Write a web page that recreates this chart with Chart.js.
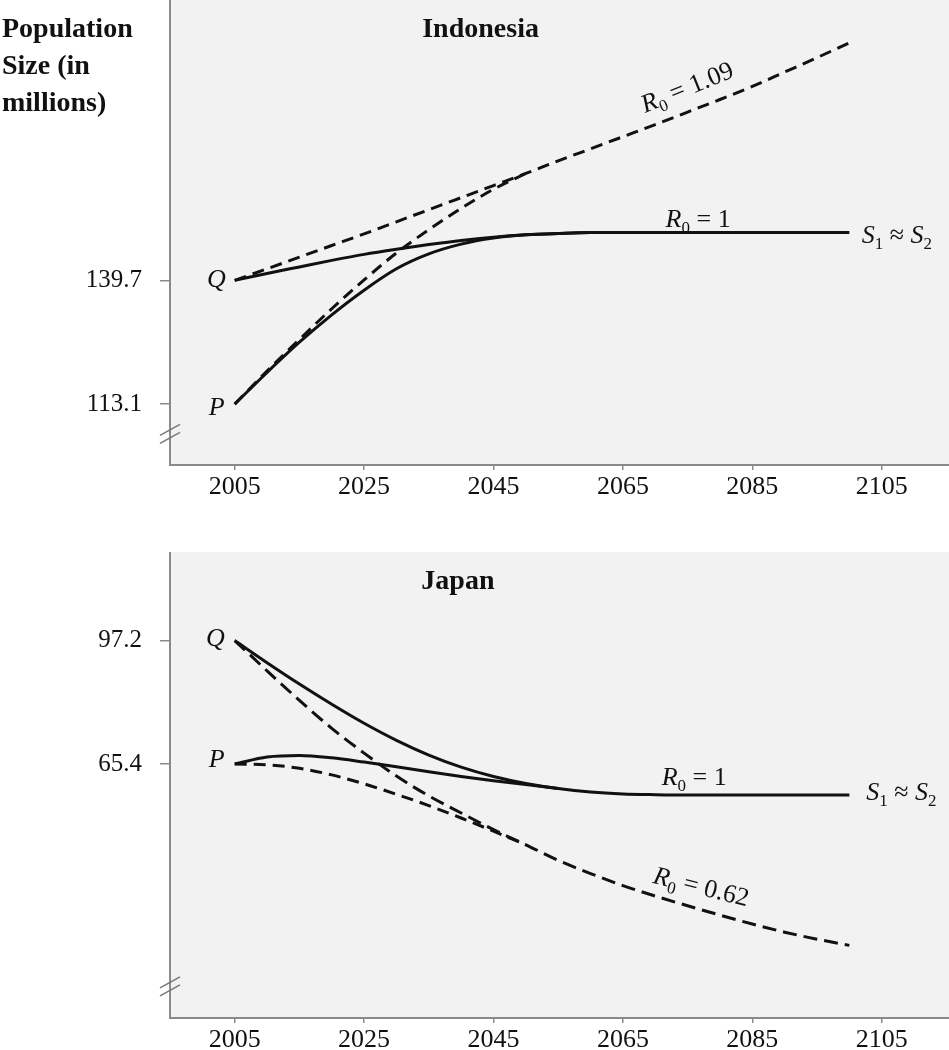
<!DOCTYPE html>
<html>
<head>
<meta charset="utf-8">
<script src="https://cdn.jsdelivr.net/npm/chart.js@4"></script>
<style>
  body { margin: 0; background: #fff; width: 949px; height: 1050px; position: relative; overflow: hidden; }
  canvas { position: absolute; left: 0; }
  #yTitle { position: absolute; left: 2px; top: 9px; z-index: 2; font-family: "Liberation Serif", "Times New Roman", serif;
            font-weight: bold; font-size: 28px; line-height: 37px; color: #111; }
</style>
</head>
<body>
<canvas id="indo" width="949" height="510" style="top:0"></canvas>
<canvas id="japan" width="949" height="498" style="top:552px"></canvas>
<div id="yTitle">Population<br>Size (in<br>millions)</div>
<script>
const years = [2005, 2010, 2015, 2020, 2025, 2030, 2035, 2040, 2045, 2050, 2055, 2060, 2065, 2070, 2075, 2080, 2085, 2090, 2095, 2100];
const xTicks = [2005, 2025, 2045, 2065, 2085, 2105];

// Indonesia (millions)
const indoTicks = [113.1, 139.7];
const indoQSolid = [139.7, 141.2, 142.6, 144.0, 145.3, 146.4, 147.4, 148.3, 149.0, 149.5, 149.8, 150.0, 150.0, 150.0, 150.0, 150.0, 150.0, 150.0, 150.0, 150.0];
const indoPSolid = [113.1, 119.9, 126.4, 132.3, 137.6, 142.2, 145.4, 147.5, 148.8, 149.5, 149.8, 150.0, null, null, null, null, null, null, null, null];
const indoQDash  = [139.7, 142.2, 144.7, 147.2, 149.7, 152.3, 154.9, 157.5, 160.1, 162.7, 165.4, 168.0, 170.6, 173.2, 175.9, 178.6, 181.4, 184.5, 187.6, 190.8];
const indoPDash  = [113.1, 120.2, 127.0, 133.6, 139.8, 145.6, 150.6, 155.2, 159.3, 162.7, null, null, null, null, null, null, null, null, null, null];

// Japan (millions)
const japanTicks = [65.4, 97.2];
const japanQSolid = [97.2, 91.5, 86.0, 80.8, 75.9, 71.5, 67.7, 64.6, 62.2, 60.4, 59.1, 58.2, 57.7, 57.5, 57.4, 57.4, 57.4, 57.4, 57.4, 57.4];
const japanPSolid = [65.4, 67.2, 67.6, 67.0, 65.9, 64.7, 63.4, 62.2, 61.1, 60.1, 59.1, null, null, null, null, null, null, null, null, null];
const japanQDash  = [97.2, 89.4, 81.8, 74.6, 68.2, 62.3, 57.2, 52.8, 48.5, 44.6, 40.6, 37.2, 34.1, 31.4, 28.9, 26.5, 24.2, 22.1, 20.3, 18.7];
const japanPDash  = [65.4, 65.2, 64.3, 62.6, 60.3, 57.6, 54.7, 51.5, 48.1, 44.6, null, null, null, null, null, null, null, null, null, null];

const FAM = '"Liberation Serif", "Times New Roman", serif';
const INK = '#111';
const AXIS = '#8a8a8a';

function fontFor(style, size) {
  if (style === 'i') return `italic ${size}px ${FAM}`;
  if (style === 'b') return `bold ${size}px ${FAM}`;
  if (style === 's') return `${Math.round(size * 0.65)}px ${FAM}`;
  return `${size}px ${FAM}`;
}

// draws text made of pieces (italic letters, subscripts...)
function drawParts(ctx, parts, x, y, size, angle, align) {
  ctx.save();
  ctx.translate(x, y);
  ctx.rotate((angle || 0) * Math.PI / 180);
  ctx.textBaseline = 'alphabetic';
  ctx.textAlign = 'left';
  ctx.fillStyle = INK;
  let w = 0;
  parts.forEach(p => { ctx.font = fontFor(p[1], size); w += ctx.measureText(p[0]).width; });
  let cx = align === 'right' ? -w : align === 'center' ? -w / 2 : 0;
  parts.forEach(p => {
    ctx.font = fontFor(p[1], size);
    ctx.fillText(p[0], cx, p[1] === 's' ? size * 0.22 : 0);
    cx += ctx.measureText(p[0]).width;
  });
  ctx.restore();
}

const notesPlugin = {
  id: 'notes',
  beforeDraw(chart) {
    const {ctx, chartArea: a} = chart;
    ctx.save();
    ctx.fillStyle = '#f2f2f2';
    ctx.fillRect(a.left, a.top, a.right - a.left, a.bottom - a.top);
    ctx.restore();
  },
  afterDraw(chart, args, opts) {
    const {ctx, scales: {x, y}} = chart;
    (opts.notes || []).forEach(n => {
      drawParts(ctx, n.parts, x.getPixelForValue(n.x) + (n.dx || 0), y.getPixelForValue(n.y) + (n.dy || 0),
                n.size || 26, n.angle, n.align);
    });
    // axis break marks
    const by = y.getPixelForValue(opts.breakAt);
    const bx = chart.chartArea.left;
    ctx.save();
    ctx.strokeStyle = '#777';
    ctx.lineWidth = 1.5;
    [-4, 4].forEach(o => {
      ctx.beginPath();
      ctx.moveTo(bx - 10, by + o + 5);
      ctx.lineTo(bx + 10, by + o - 6);
      ctx.stroke();
    });
    ctx.restore();
  }
};

function line(data, dash) {
  return {
    data: years.map((yr, i) => ({x: yr, y: data[i]})),
    borderColor: INK,
    borderWidth: 3,
    borderDash: dash || [],
    pointRadius: 0,
    fill: false,
    cubicInterpolationMode: 'monotone',
    spanGaps: false
  };
}

function makeChart(id, yMin, yMax, yTicks, datasets, notes, breakAt, xAxisHeight) {
  return new Chart(document.getElementById(id), {
    type: 'line',
    data: {datasets: datasets},
    plugins: [notesPlugin],
    options: {
      responsive: false,
      animation: false,
      layout: {padding: 0},
      plugins: {
        legend: {display: false},
        tooltip: {enabled: false},
        notes: {notes: notes, breakAt: breakAt}
      },
      scales: {
        x: {
          type: 'linear',
          min: 1995,
          max: 2115.4,
          afterBuildTicks: s => { s.ticks = xTicks.map(v => ({value: v})); },
          afterFit: s => { s.height = xAxisHeight; s.paddingLeft = 0; s.paddingRight = 0; },
          ticks: {
            callback: v => String(v),
            color: INK,
            padding: 2,
            maxRotation: 0,
            font: {family: FAM, size: 26}
          },
          grid: {drawOnChartArea: false, drawTicks: true, tickLength: 5, color: AXIS, lineWidth: 1.5},
          border: {display: true, color: AXIS, width: 2}
        },
        y: {
          type: 'linear',
          min: yMin,
          max: yMax,
          afterBuildTicks: s => { s.ticks = yTicks.map(v => ({value: v})); },
          afterFit: s => { s.width = 170; s.paddingTop = 0; s.paddingBottom = 0; },
          ticks: {
            callback: v => String(v),
            color: INK,
            padding: 18,
            font: {family: FAM, size: 25}
          },
          grid: {drawOnChartArea: false, drawTicks: true, tickLength: 10, color: AXIS, lineWidth: 1.5},
          border: {display: true, color: AXIS, width: 2}
        }
      }
    }
  });
}

const R = 'R', S = 'S';

makeChart('indo', 100, 200, indoTicks, [
  line(indoQSolid),
  line(indoPSolid),
  line(indoQDash, [12, 7]),
  line(indoPDash, [12, 7])
], [
  {x: 2043, y: 192.0, parts: [['Indonesia', 'b']], size: 28, align: 'center'},
  {x: 2005, y: 139.7, dx: -9, dy: 7, parts: [['Q', 'i']], align: 'right'},
  {x: 2005, y: 113.1, dx: -10, dy: 11, parts: [['P', 'i']], align: 'right'},
  {x: 2068.4, y: 175.7, parts: [[R, 'i'], ['0', 's'], [' = 1.09', 'n']], angle: -22},
  {x: 2071.6, y: 151.2, parts: [[R, 'i'], ['0', 's'], [' = 1', 'n']]},
  {x: 2101.9, y: 147.7, parts: [[S, 'i'], ['1', 's'], [' \u2248 ', 'n'], [S, 'i'], ['2', 's']]}
], 106.6, 45);

makeChart('japan', 0, 120, japanTicks, [
  line(japanQSolid),
  line(japanPSolid),
  line(japanQDash, [14, 7]),
  line(japanPDash, [12, 7])
], [
  {x: 2039.5, y: 110.5, parts: [['Japan', 'b']], size: 28, align: 'center'},
  {x: 2005, y: 97.2, dx: -10, dy: 5, parts: [['Q', 'i']], align: 'right'},
  {x: 2005, y: 65.4, dx: -10, dy: 3, parts: [['P', 'i']], align: 'right'},
  {x: 2071, y: 60.0, parts: [[R, 'i'], ['0', 's'], [' = 1', 'n']]},
  {x: 2102.6, y: 56.1, parts: [[S, 'i'], ['1', 's'], [' \u2248 ', 'n'], [S, 'i'], ['2', 's']]},
  {x: 2069.5, y: 34.8, parts: [[R, 'i'], ['0', 's'], [' = 0.62', 'n']], angle: 14}
], 8.0, 32);
</script>
</body>
</html>
